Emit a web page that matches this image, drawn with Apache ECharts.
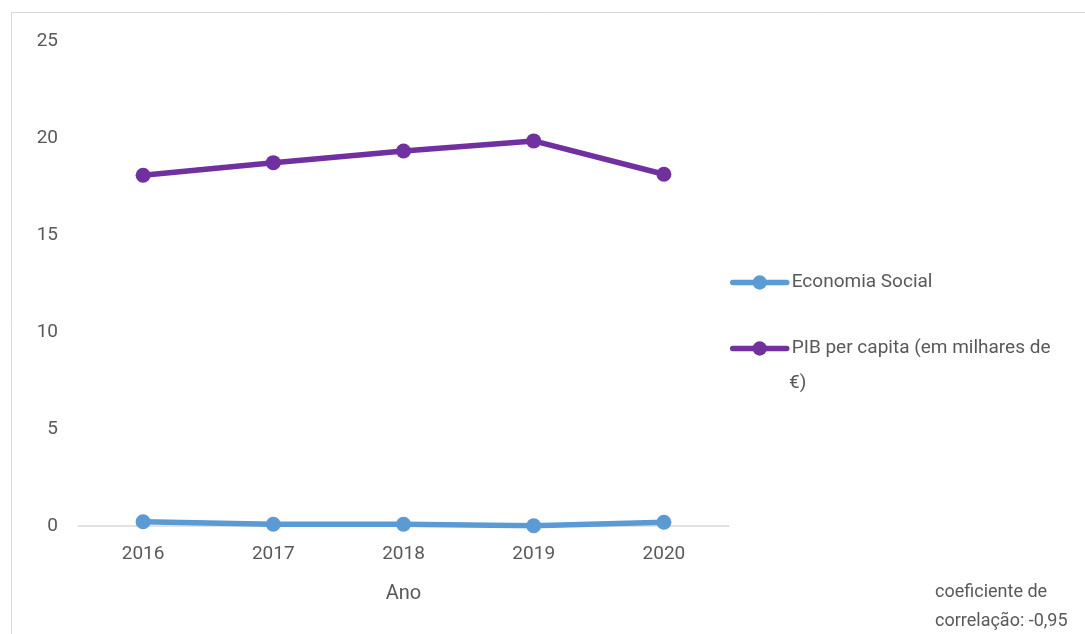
<!DOCTYPE html>
<html>
<head>
<meta charset="utf-8">
<script src="https://cdn.jsdelivr.net/npm/echarts@6/dist/echarts.min.js"></script>
<style>
  html, body { margin: 0; padding: 0; background: #ffffff; }
  #chart { width: 1085px; height: 634px; }
</style>
</head>
<body>
<div id="chart"></div>
<script>
// Anos e séries
const anos = ['2016', '2017', '2018', '2019', '2020'];
const economiaSocial = [0.22, 0.09, 0.09, 0.01, 0.19];
const pibPerCapita = [18.08, 18.73, 19.33, 19.85, 18.13];
const yTicks = [0, 5, 10, 15, 20, 25];

const nomeES = 'Economia Social';
const nomePIB = 'PIB per capita (em milhares de €)';

const FONT = 'Roboto, sans-serif';
const TXT = '#595959';
const AZUL = '#5B9BD5';
const ROXO = '#7030A0';

const chart = echarts.init(document.getElementById('chart'), null, { renderer: 'canvas' });

// Legenda comum: linha grossa com marcador, texto cinzento
function legenda(nome, topo, texto) {
  return {
    orient: 'vertical',
    left: 730,
    top: topo,
    itemWidth: 54,
    itemHeight: 18,
    itemGap: 5,
    padding: 0,
    lineStyle: { width: 5.5, cap: 'round' },
    formatter: function () { return texto; },
    textStyle: { color: TXT, fontSize: 19, fontFamily: FONT },
    data: [{ name: nome }]
  };
}

chart.setOption({
  backgroundColor: '#ffffff',
  animation: false,
  grid: { left: 78, right: 356, top: 41, bottom: 108, containLabel: false },
  xAxis: {
    type: 'category',
    data: anos,
    boundaryGap: true,
    name: 'Ano',
    nameLocation: 'middle',
    nameGap: 58,
    nameTextStyle: { color: TXT, fontSize: 20, fontFamily: FONT },
    axisLine: { show: true, lineStyle: { color: '#d9d9d9', width: 1.5 } },
    axisTick: { show: false },
    axisLabel: { color: TXT, fontSize: 19, fontFamily: FONT, margin: 19 }
  },
  yAxis: {
    type: 'value',
    min: yTicks[0],
    max: yTicks[yTicks.length - 1],
    interval: 5,
    axisLine: { show: false },
    axisTick: { show: false },
    splitLine: { show: false },
    axisLabel: { color: TXT, fontSize: 19, fontFamily: FONT, margin: 20 }
  },
  legend: [
    legenda(nomeES, 273, 'Economia Social'),
    legenda(nomePIB, 339, 'PIB per capita (em milhares de')
  ],
  series: [
    {
      name: nomeES,
      type: 'line',
      data: economiaSocial,
      symbol: 'circle',
      symbolSize: 15,
      lineStyle: { color: AZUL, width: 5.5 },
      itemStyle: { color: AZUL }
    },
    {
      name: nomePIB,
      type: 'line',
      data: pibPerCapita,
      symbol: 'circle',
      symbolSize: 15,
      lineStyle: { color: ROXO, width: 5.5 },
      itemStyle: { color: ROXO }
    }
  ],
  graphic: [
    {
      type: 'rect',
      silent: true,
      shape: { x: 11.5, y: 12.5, width: 1200, height: 800 },
      style: { fill: 'none', stroke: '#d9d9d9', lineWidth: 1 }
    },
    {
      type: 'text',
      left: 789,
      top: 374,
      style: { text: '€)', fill: TXT, font: '19px ' + FONT }
    },
    {
      type: 'text',
      left: 935,
      top: 578,
      style: {
        text: 'coeficiente de\ncorrelação: -0,95',
        fill: TXT,
        font: '18px ' + FONT,
        lineHeight: 29
      }
    }
  ]
});
</script>
</body>
</html>
